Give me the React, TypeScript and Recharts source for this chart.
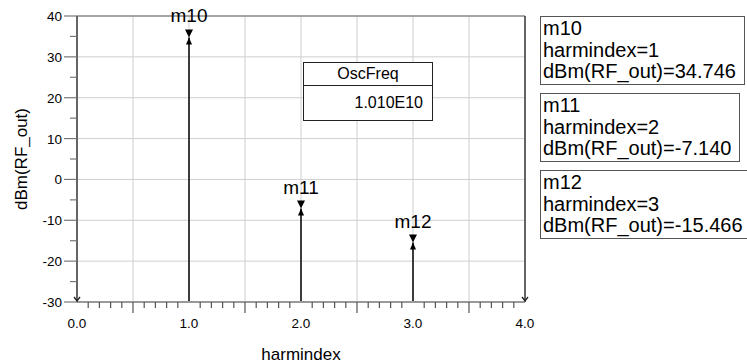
import React from "react";
import { ComposedChart, XAxis, YAxis, Scatter, ReferenceLine, ReferenceDot, Label } from "recharts";

// harmonic markers
const harmIndex = [1, 2, 3];
const rfOutDbm = [34.746, -7.14, -15.466];
const markerNames = ["m10", "m11", "m12"];
const oscFreqValue = "1.010E10";

// axis ticks / grid
const xTicks = Array.from({ length: 41 }, (_, i) => i / 10);
const yTicks = [-30, -25, -20, -15, -10, -5, 0, 5, 10, 15, 20, 25, 30, 35, 40];
const xGrid = [0.5, 1, 1.5, 2, 2.5, 3, 3.5];
const yGrid = [-20, -10, 0, 10, 20, 30];
const cornerX = [0, 4];

const FONT = "'Liberation Sans', Arial, sans-serif";

const markers = harmIndex.map((h, i) => ({ x: h, y: rfOutDbm[i], name: markerNames[i] }));

function XTick(props: any) {
  const { x, y, payload } = props;
  const v = payload.value as number;
  const tenth = Math.round(v * 10);
  const isInt = tenth % 10 === 0;
  const isHalf = tenth % 5 === 0;
  return (
    <g>
      {!isInt && <line x1={x} x2={x} y1={y} y2={y + (isHalf ? 11 : 6)} stroke="#555" strokeWidth={1.2} />}
      {isInt && (
        <text x={x} y={y + 26} textAnchor="middle" fontSize={13.5} fontFamily={FONT} fill="#000">
          {v.toFixed(1)}
        </text>
      )}
    </g>
  );
}

function YTick(props: any) {
  const { x, y, payload } = props;
  const v = payload.value as number;
  const major = v % 10 === 0;
  return (
    <g>
      <line x1={x - (major ? 13 : 7)} x2={x} y1={y} y2={y} stroke="#777" strokeWidth={1.2} />
      {major && (
        <text x={x - 15} y={y + 5} textAnchor="end" fontSize={13.5} fontFamily={FONT} fill="#000">
          {v}
        </text>
      )}
    </g>
  );
}

function MarkerShape(props: any) {
  const { cx, cy, payload } = props;
  return (
    <g>
      <polygon points={`${cx - 4},${cy - 8} ${cx + 4},${cy - 8} ${cx},${cy}`} fill="#000" />
      <polygon points={`${cx - 3},${cy + 7} ${cx + 3},${cy + 7} ${cx},${cy}`} fill="#000" />
      <text x={cx} y={cy - 15} textAnchor="middle" fontSize={19} fontFamily={FONT} fill="#000">
        {payload.name}
      </text>
    </g>
  );
}

function CornerMark(props: any) {
  const { cx, cy } = props;
  return <path d={`M${cx - 3},${cy - 5} L${cx},${cy - 1} L${cx + 3},${cy - 5}`} fill="none" stroke="#222" strokeWidth={1.3} />;
}

const boxStyle: React.CSSProperties = {
  position: "absolute",
  left: 540,
  border: "1px solid #555",
  padding: "1px 8px 1px 2px",
  fontFamily: FONT,
  fontSize: 20,
  lineHeight: "21.5px",
  color: "#000",
  background: "#fff",
  whiteSpace: "nowrap",
};
const boxTops = [16, 93, 170];

export default function App() {
  return (
    <div style={{ position: "fixed", left: 0, top: 0, width: 747, height: 364, background: "#fff" }}>
      <ComposedChart width={747} height={364} margin={{ top: 16, right: 222, bottom: 0, left: 0 }}>
        <XAxis
          dataKey="x"
          type="number"
          domain={[0, 4]}
          ticks={xTicks}
          interval={0}
          tick={<XTick />}
          tickLine={false}
          tickSize={0}
          tickMargin={0}
          height={62}
          axisLine={{ stroke: "#999", strokeWidth: 2 }}
        >
          <Label
            content={(p: any) => {
              const vb = p.viewBox;
              return (
                <text x={vb.x + vb.width / 2} y={vb.y + 58} textAnchor="middle" fontSize={17} fontFamily={FONT} fill="#000">
                  harmindex
                </text>
              );
            }}
          />
        </XAxis>
        <YAxis
          type="number"
          domain={[-30, 40]}
          ticks={yTicks}
          interval={0}
          tick={<YTick />}
          tickLine={false}
          tickSize={0}
          tickMargin={0}
          width={77}
          axisLine={{ stroke: "#333", strokeWidth: 1.5 }}
        >
          <Label
            content={(p: any) => {
              const vb = p.viewBox;
              const cx = vb.x + 26.5;
              const cy = vb.y + vb.height / 2;
              return (
                <text x={cx} y={cy} transform={`rotate(-90 ${cx} ${cy})`} textAnchor="middle" fontSize={17} fontFamily={FONT} fill="#000">
                  dBm(RF_out)
                </text>
              );
            }}
          />
        </YAxis>
        {xGrid.map((g) => (
          <ReferenceLine key={`gx${g}`} x={g} stroke="#cfcfcf" strokeWidth={1} />
        ))}
        {yGrid.map((g) => (
          <ReferenceLine key={`gy${g}`} y={g} stroke="#cfcfcf" strokeWidth={1} />
        ))}
        <ReferenceLine y={40} stroke="#888" strokeWidth={1.5} />
        <ReferenceLine x={4} stroke="#333" strokeWidth={1.5} />
        {cornerX.map((c) => (
          <ReferenceDot key={`c${c}`} x={c} y={-30} r={0} shape={<CornerMark />} />
        ))}
        {markers.map((m) => (
          <ReferenceLine
            key={`stem${m.name}`}
            segment={[{ x: m.x, y: -30 }, { x: m.x, y: m.y }]}
            stroke="#111"
            strokeWidth={1.6}
          />
        ))}
        <Scatter data={markers} dataKey="y" shape={<MarkerShape />} isAnimationActive={false} />
      </ComposedChart>

      <div
        style={{
          position: "absolute",
          left: 303,
          top: 62,
          width: 128,
          height: 57,
          border: "1.5px solid #222",
          background: "#fff",
          fontFamily: FONT,
          fontSize: 16,
          color: "#000",
        }}
      >
        <div style={{ height: 22, lineHeight: "22px", textAlign: "center", borderBottom: "1px solid #222" }}>OscFreq</div>
        <div style={{ lineHeight: "34px", textAlign: "right", paddingRight: 9 }}>{oscFreqValue}</div>
      </div>

      {markers.map((m, i) => (
        <div key={m.name} style={{ ...boxStyle, top: boxTops[i] }}>
          <div>{m.name}</div>
          <div>harmindex={m.x}</div>
          <div>dBm(RF_out)={m.y.toFixed(3)}</div>
        </div>
      ))}
    </div>
  );
}
